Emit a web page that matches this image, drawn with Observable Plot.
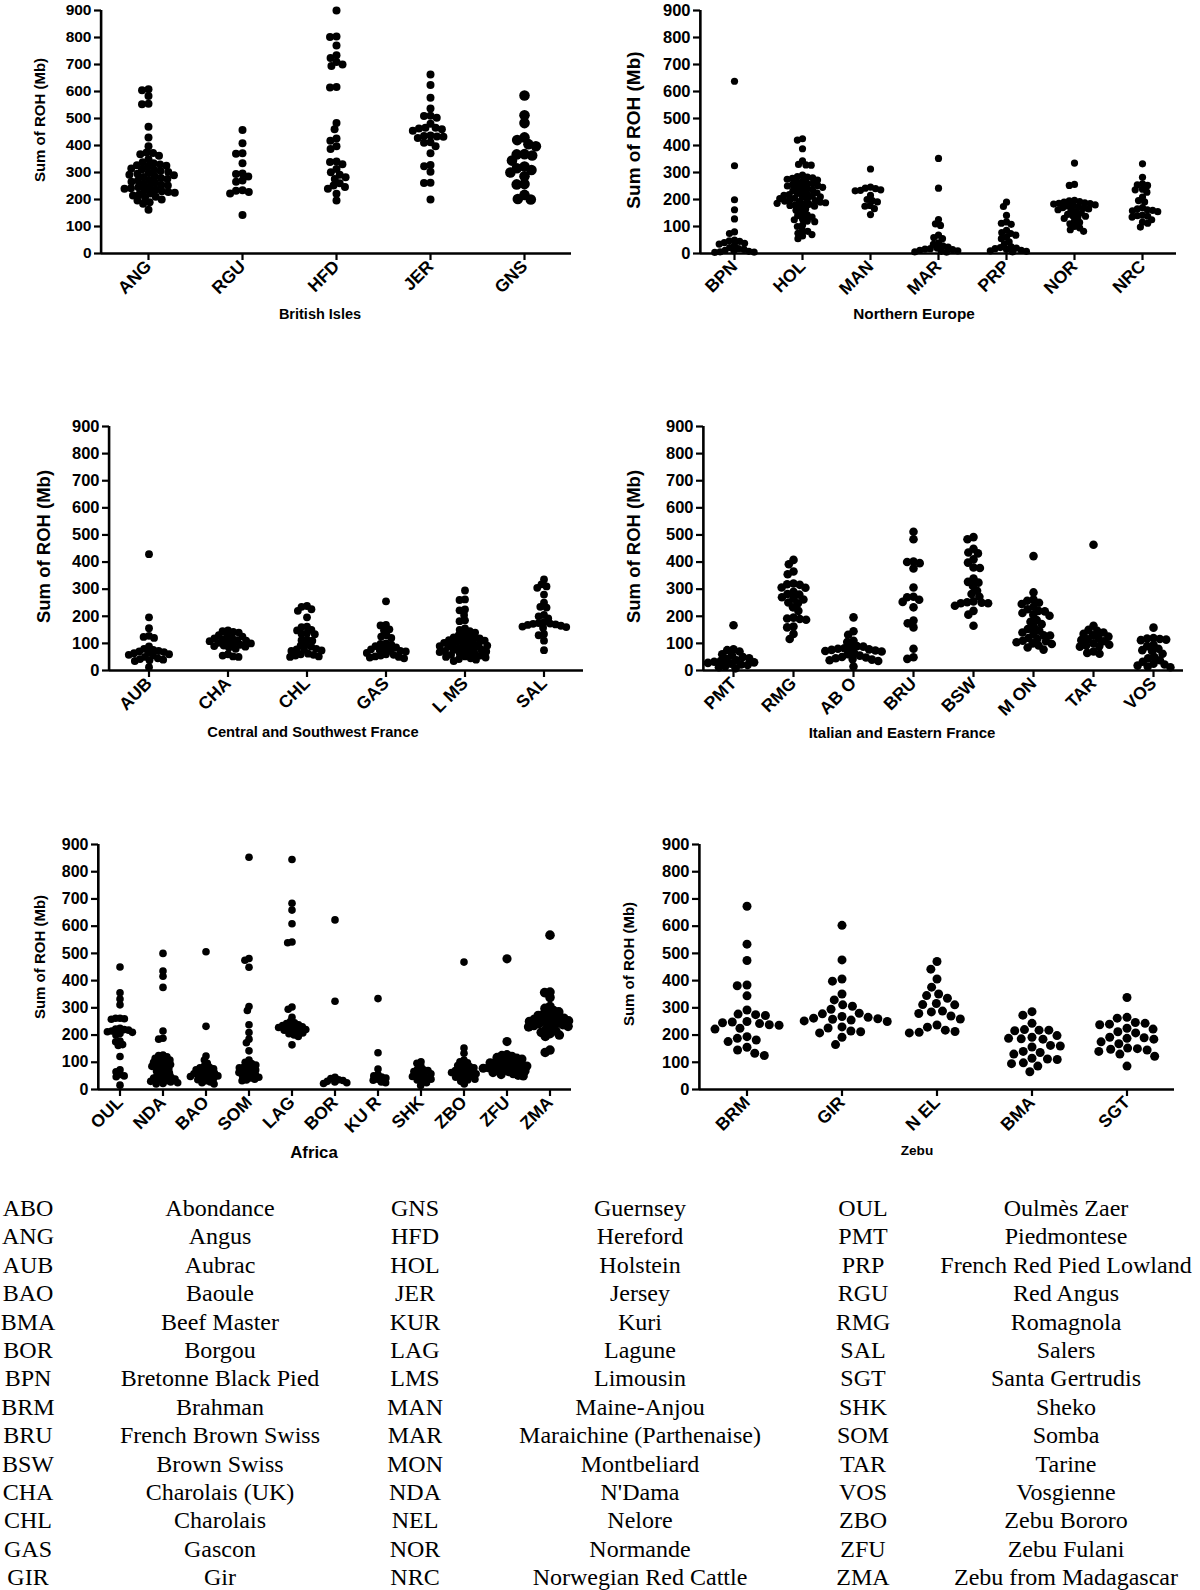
<!DOCTYPE html>
<html>
<head>
<meta charset="utf-8">
<script src="https://cdn.jsdelivr.net/npm/d3@7"></script>
<script src="https://cdn.jsdelivr.net/npm/@observablehq/plot@0.6"></script>
<style>
  html, body { margin: 0; padding: 0; background: #fff; }
  #root { position: relative; width: 1200px; height: 1590px; background: #fff; overflow: hidden; }
  .panel { position: absolute; }
  .caption { position: absolute; font-family: "Liberation Sans", Arial, sans-serif; font-weight: bold; text-align: center; white-space: nowrap; color: #000; }
  .cell { position: absolute; font-family: "Liberation Serif", "Times New Roman", serif; font-size: 24px; line-height: 28px; text-align: center; white-space: nowrap; color: #000; }
</style>
</head>
<body>
<div id="root"></div>
<script>
// ---------------- DATA ----------------
const yTicks = [0, 100, 200, 300, 400, 500, 600, 700, 800, 900];
const yLabel = "Sum of ROH (Mb)";

// British Isles
const britishBreeds = ["ANG", "RGU", "HFD", "JER", "GNS"];
const britishTickLabels = ["ANG", "RGU", "HFD", "JER", "GNS"];
const ANG = [608,605,583,555,553,469,430,397,374,372,368,362,349,338,334,330,327,325,322,315,312,310,306,302,298,295,292,290,286,283,280,276,272,270,266,262,258,255,252,248,245,242,240,237,234,231,228,225,222,219,215,210,207,200,196,190,184,162];
const RGU = [457,408,371,369,334,296,294,285,270,266,234,232,228,222,143];
const HFD = [900,804,802,770,734,724,709,700,694,617,615,483,460,426,418,397,387,341,339,331,313,301,292,282,276,260,252,246,240,221,196];
const JER = [663,624,577,537,510,509,503,481,466,466,463,460,455,437,435,433,432,428,412,410,397,371,328,323,303,262,261,200];
const GNS = [585,512,483,430,420,405,397,368,367,363,344,322,316,309,300,286,257,256,217,202,200];

// Northern Europe
const northBreeds = ["BPN", "HOL", "MAN", "MAR", "PRP", "NOR", "NRC"];
const northTickLabels = ["BPN", "HOL", "MAN", "MAR", "PRP", "NOR", "NRC"];
const BPN = [638,325,199,162,128,80,74,50,47,45,40,38,35,30,22,18,15,12,10,8,6,5,4];
const HOL = [425,420,388,343,330,328,327,290,285,283,280,278,275,272,268,263,260,258,255,252,250,248,245,242,240,236,232,228,225,222,220,218,215,212,210,208,205,203,200,198,196,194,192,190,188,186,184,182,180,178,175,170,165,160,150,143,140,135,128,125,120,118,105,100,85,82,75,70,65,55];
const MAN = [313,246,242,240,236,234,232,215,200,196,191,178,175,166,144];
const MAR = [352,242,126,110,104,68,59,55,39,34,28,24,20,18,16,14,12,10,8,6,5];
const PRP = [190,174,141,117,112,108,86,77,74,68,60,55,43,35,25,22,20,18,15,12,10,8,6];
const NOR = [335,256,252,197,195,192,190,188,186,185,183,180,178,176,173,170,168,165,162,160,155,150,145,140,138,135,130,120,115,110,100,95,88,82];
const NRC = [332,282,258,254,252,238,236,227,209,196,191,170,165,162,160,158,155,142,140,138,135,125,116,112,98];

// Central and Southwest France
const centralBreeds = ["AUB", "CHA", "CHL", "GAS", "LMS", "SAL"];
const centralTickLabels = ["AUB", "CHA", "CHL", "GAS", "L MS", "SAL"];
const AUB = [429,196,156,128,124,120,89,80,76,72,70,68,66,64,60,58,55,50,45,42,40,38,35,12];
const CHA = [148,145,142,140,130,128,125,120,118,115,112,110,108,105,102,100,98,95,92,90,88,85,80,60,55,52,50];
const CHL = [238,235,226,220,196,162,160,150,148,138,136,134,115,112,110,95,92,88,80,78,76,74,72,62,60,58,55,52,50];
const GAS = [255,168,166,152,148,130,125,120,100,98,95,90,85,80,78,76,74,72,70,65,60,58,55,52,50,48,45];
const LMS = [295,262,260,225,222,205,185,182,155,150,145,140,135,130,125,122,120,118,115,112,110,108,105,102,100,98,96,94,92,90,88,85,82,80,78,76,74,72,70,68,65,62,60,58,55,52,50,48,45,42,40,35];
const SAL = [336,318,310,305,280,250,235,232,205,200,192,178,175,173,172,170,168,165,162,160,158,135,130,110,75];

// Italian and Eastern France
const italianBreeds = ["PMT", "RMG", "ABO", "BRU", "BSW", "MON", "TAR", "VOS"];
const italianTickLabels = ["PMT", "RMG", "AB O", "BRU", "BSW", "M ON", "TAR", "VOS"];
const PMT = [167,78,75,70,60,55,50,45,42,38,35,32,30,28,25,22,20,16,12,8];
const RMG = [408,392,365,355,321,318,316,306,305,290,282,280,270,265,262,251,248,233,220,195,192,190,187,162,159,135,116];
const ABO = [196,145,132,110,105,90,88,85,82,80,78,76,74,72,70,65,60,55,50,48,45,42,40,38,35,15];
const BRU = [512,484,402,400,396,376,306,272,270,261,253,233,184,174,159,80,49,43];
const BSW = [492,484,449,435,432,410,398,380,378,339,327,324,312,294,282,272,255,252,250,248,248,239,220,206,165];
const MON = [422,288,262,257,250,245,235,226,220,218,212,206,202,186,180,171,160,153,147,140,135,130,129,120,116,110,108,104,100,98,92,85,77];
const TAR = [464,165,150,146,140,135,130,125,120,115,112,108,100,95,92,90,88,70,65,62];
const VOS = [158,120,118,116,114,112,95,90,80,75,72,62,50,45,38,32,25,22,18,15,12];

// Africa
const africaBreeds = ["OUL", "NDA", "BAO", "SOM", "LAG", "BOR", "KUR", "SHK", "ZBO", "ZFU", "ZMA"];
const africaTickLabels = ["OUL", "NDA", "BAO", "SOM", "LAG", "BOR", "KU R", "SHK", "ZBO", "ZFU", "ZMA"];
const OUL = [450,355,332,311,262,262,260,258,225,222,220,218,215,212,210,206,200,178,175,165,162,121,72,65,55,50,47,16];
const NDA = [500,435,416,375,215,188,185,127,125,120,115,110,108,105,100,96,92,90,88,85,80,76,72,68,64,60,56,52,48,45,42,40,38,35,32,30,28,25,22,20];
const BAO = [506,232,123,108,96,85,82,80,76,72,68,65,62,60,58,55,52,50,48,45,42,40,36,32,28,25,20];
const SOM = [853,481,475,449,305,290,238,209,185,172,142,108,100,95,90,86,82,80,76,72,68,65,62,58,55,52,48,45,42,38,35,32];
const LAG = [845,684,659,609,542,539,303,295,265,250,245,242,238,235,232,230,228,225,222,220,218,215,212,208,205,200,195,164];
const BOR = [623,324,45,40,36,33,30,28,25,22];
const KUR = [334,135,75,55,50,46,42,38,34,28,25];
const SHK = [102,96,85,75,72,70,66,62,58,55,52,48,45,42,38,35,30,25,15];
const ZBO = [468,152,133,108,102,98,92,88,84,80,76,72,70,68,65,62,60,58,55,52,48,45,42,38,35,30,20];
const ZFU = [480,176,128,125,122,118,115,112,108,105,102,100,98,95,92,90,88,86,84,82,80,78,76,74,72,70,68,66,62,58,55,52,50];
const ZMA = [567,358,356,338,305,298,290,285,280,276,272,268,265,262,260,258,255,252,250,248,245,242,240,238,235,232,230,225,220,215,210,205,200,195,145,136];

// Zebu
const zebuBreeds = ["BRM", "GIR", "NEL", "BMA", "SGT"];
const zebuTickLabels = ["BRM", "GIR", "N EL", "BMA", "SGT"];
const BRM = [673,534,474,384,381,344,292,277,275,272,250,248,245,242,238,236,225,222,194,188,182,176,155,145,133,125];
const GIR = [603,476,406,398,351,329,311,306,295,280,278,268,265,262,260,258,255,252,250,230,226,215,212,208,192,165];
const NEL = [470,442,406,376,351,345,335,316,312,311,288,285,279,270,259,237,229,218,213,210,208];
const BMA = [286,273,243,220,218,218,216,198,192,188,186,185,162,160,156,140,136,130,115,112,110,98,95,86,65];
const SGT = [338,265,262,246,243,240,238,225,222,212,208,192,190,188,185,175,168,152,150,148,145,140,130,122,86];

// Region names
const regionNames = ["British Isles", "Northern Europe", "Central and Southwest France", "Italian and Eastern France", "Africa", "Zebu"];

// Abbreviation table
const legendCodes = ["ABO","ANG","AUB","BAO","BMA","BOR","BPN","BRM","BRU","BSW","CHA","CHL","GAS","GIR",
  "GNS","HFD","HOL","JER","KUR","LAG","LMS","MAN","MAR","MON","NDA","NEL","NOR","NRC",
  "OUL","PMT","PRP","RGU","RMG","SAL","SGT","SHK","SOM","TAR","VOS","ZBO","ZFU","ZMA"];
const legendNames = ["Abondance","Angus","Aubrac","Baoule","Beef Master","Borgou","Bretonne Black Pied","Brahman","French Brown Swiss","Brown Swiss","Charolais (UK)","Charolais","Gascon","Gir",
  "Guernsey","Hereford","Holstein","Jersey","Kuri","Lagune","Limousin","Maine-Anjou","Maraichine (Parthenaise)","Montbeliard","N'Dama","Nelore","Normande","Norwegian Red Cattle",
  "Oulmès Zaer","Piedmontese","French Red Pied Lowland","Red Angus","Romagnola","Salers","Santa Gertrudis","Sheko","Somba","Tarine","Vosgienne","Zebu Bororo","Zebu Fulani","Zebu from Madagascar"];

// ---------------- PANELS (data) ----------------
const panelData = [
  {breeds: britishBreeds, ticks: britishTickLabels, values: [ANG, RGU, HFD, JER, GNS], region: regionNames[0]},
  {breeds: northBreeds, ticks: northTickLabels, values: [BPN, HOL, MAN, MAR, PRP, NOR, NRC], region: regionNames[1]},
  {breeds: centralBreeds, ticks: centralTickLabels, values: [AUB, CHA, CHL, GAS, LMS, SAL], region: regionNames[2]},
  {breeds: italianBreeds, ticks: italianTickLabels, values: [PMT, RMG, ABO, BRU, BSW, MON, TAR, VOS], region: regionNames[3]},
  {breeds: africaBreeds, ticks: africaTickLabels, values: [OUL, NDA, BAO, SOM, LAG, BOR, KUR, SHK, ZBO, ZFU, ZMA], region: regionNames[4]},
  {breeds: zebuBreeds, ticks: zebuTickLabels, values: [BRM, GIR, NEL, BMA, SGT], region: regionNames[5]}
];

// ---------------- LAYOUT (page pixels) ----------------
const layouts = [
  {svgLeft: 0,   svgTop: 0,   frameLeft: 99,  frameRight: 573,  frameTop: 10,  frameBottom: 253,  yLabX: 38,  yLabSize: 15,   yLabDy: -12, tickSize: 15.5, catSize: 17.5, r: 4,   pad: -1.5, bigR: {GNS: 5.3}, cap: {x: 320, y: 314, size: 14.5}},
  {svgLeft: 600, svgTop: 0,   frameLeft: 699, frameRight: 1177, frameTop: 10,  frameBottom: 253,  yLabX: 632, yLabSize: 19,   yLabDy: -2,  tickSize: 16.5, catSize: 17.5, r: 3.6, pad: -1.9, bigR: {},        cap: {x: 914, y: 314, size: 15.3}},
  {svgLeft: 0,   svgTop: 400, frameLeft: 106, frameRight: 585,  frameTop: 426, frameBottom: 670,  yLabX: 41,  yLabSize: 18.5, yLabDy: -2,  tickSize: 16.5, catSize: 17.5, r: 3.9, pad: -2.3, bigR: {},        cap: {x: 313, y: 732, size: 14.7}},
  {svgLeft: 600, svgTop: 400, frameLeft: 702, frameRight: 1184, frameTop: 426, frameBottom: 670,  yLabX: 633, yLabSize: 18.5, yLabDy: -2,  tickSize: 16.5, catSize: 17.5, r: 4.3, pad: -2.2, bigR: {},        cap: {x: 902, y: 733, size: 15}},
  {svgLeft: 0,   svgTop: 820, frameLeft: 96,  frameRight: 573,  frameTop: 844, frameBottom: 1089, yLabX: 38,  yLabSize: 15,   yLabDy: -10, tickSize: 16,   catSize: 17.5, r: 3.8, pad: -3.2, bigR: {ZFU: 4.6, ZMA: 4.8}, cap: {x: 314, y: 1153, size: 16.8}},
  {svgLeft: 600, svgTop: 820, frameLeft: 698, frameRight: 1174, frameTop: 844, frameBottom: 1089, yLabX: 628, yLabSize: 15,   yLabDy: -3,  tickSize: 16.5, catSize: 17.5, r: 4.5, pad: 0.8,  bigR: {},        cap: {x: 917, y: 1151, size: 13.6}}
];

const root = document.getElementById("root");
const FONT = "'Liberation Sans', Arial, Helvetica, sans-serif";

function drawPanel(p, L) {
  const rows = [];
  p.breeds.forEach((b, i) => p.values[i].forEach(v => rows.push({breed: b, roh: v})));
  const tickOf = new Map(p.breeds.map((b, i) => [b, p.ticks[i]]));
  const width = 600;
  const marginLeft = L.frameLeft - L.svgLeft;
  const marginRight = L.svgLeft + width - L.frameRight;
  const marginTop = L.frameTop - L.svgTop;
  const marginBottom = 62;
  const height = L.frameBottom - L.svgTop + marginBottom;
  const band = (L.frameRight - L.frameLeft) / p.breeds.length;
  const rOf = b => (L.bigR[b] !== undefined ? L.bigR[b] : L.r);
  const radii = Array.from(new Set(p.breeds.map(rOf)));

  const dotMarks = radii.map(rv =>
    Plot.dot(rows.filter(d => rOf(d.breed) === rv),
      Plot.dodgeX({anchor: "middle", padding: L.pad - (rv - L.r)}, {y: "roh", fx: "breed", r: rv, fill: "black", stroke: "none"}))
  );

  const chart = Plot.plot({
    width, height, marginLeft, marginRight, marginTop, marginBottom,
    style: {fontFamily: FONT, background: "white", color: "black", overflow: "visible"},
    y: {domain: [0, 900]},
    fx: {domain: p.breeds, padding: 0},
    marks: [
      ...dotMarks,
      Plot.ruleY([0], {stroke: "black", strokeWidth: 2.6}),
      Plot.ruleX([{fx: p.breeds[0]}], {fx: "fx", x: null, y1: 0, y2: 900, dx: -band / 2, stroke: "black", strokeWidth: 2.6}),
      Plot.axisY({ticks: yTicks, tickSize: 7, tickPadding: 3, strokeWidth: 2.2, fontSize: L.tickSize, fontWeight: "bold", label: null}),
      Plot.axisFx({anchor: "bottom", tickSize: 7, tickPadding: 3, strokeWidth: 2.2, tickRotate: -45, fontSize: L.catSize, fontWeight: "bold", label: null, tickFormat: b => tickOf.get(b)}),
      Plot.text([{fx: p.breeds[0], t: yLabel}], {fx: "fx", text: "t", frameAnchor: "left", textAnchor: "middle", rotate: -90,
        dx: -(L.frameLeft - L.yLabX), dy: L.yLabDy, fontSize: L.yLabSize, fontWeight: "bold", fill: "black"})
    ]
  });
  const wrap = document.createElement("div");
  wrap.className = "panel";
  wrap.style.left = L.svgLeft + "px";
  wrap.style.top = L.svgTop + "px";
  wrap.appendChild(chart);
  root.appendChild(wrap);

  const cap = document.createElement("div");
  cap.className = "caption";
  cap.textContent = p.region;
  cap.style.fontSize = L.cap.size + "px";
  cap.style.lineHeight = "20px";
  cap.style.left = (L.cap.x - 200) + "px";
  cap.style.width = "400px";
  cap.style.top = (L.cap.y - 10) + "px";
  root.appendChild(cap);
}

panelData.forEach((p, i) => drawPanel(p, layouts[i]));

// ---------------- TABLE ----------------
const colCenters = [28, 220, 415, 640, 863, 1066];
const rowY0 = 1208, rowStep = 28.4, perCol = 14;
legendCodes.forEach((code, k) => {
  const group = Math.floor(k / perCol), row = k % perCol;
  const y = rowY0 + row * rowStep;
  [[code, colCenters[group * 2]], [legendNames[k], colCenters[group * 2 + 1]]].forEach(([txt, cx]) => {
    const el = document.createElement("div");
    el.className = "cell";
    el.textContent = txt;
    el.style.left = (cx - 200) + "px";
    el.style.width = "400px";
    el.style.top = (y - 14) + "px";
    root.appendChild(el);
  });
});
</script>
</body>
</html>
